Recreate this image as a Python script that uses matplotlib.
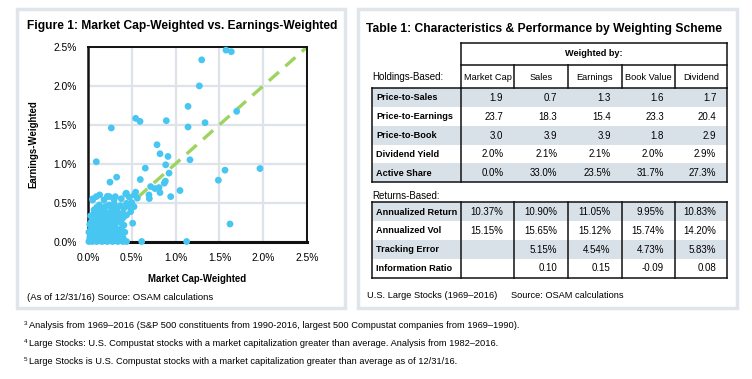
import matplotlib
matplotlib.use("Agg")
import matplotlib.pyplot as plt
from matplotlib.patches import Rectangle
from matplotlib.lines import Line2D
from matplotlib.ticker import FuncFormatter

W, H = 752, 379
NARROW = ['Liberation Sans Narrow', 'Liberation Sans', 'DejaVu Sans']
SANS = ['Liberation Sans', 'DejaVu Sans']

# ---------------- scatter data (weights in %) ----------------
mcap_w = [1.575, 1.636, 1.298, 1.271, 1.142, 1.697, 0.544, 0.594, 0.894, 0.266, 1.142, 1.336,
          0.788, 0.822, 0.913, 0.887, 1.164, 0.095, 0.654, 0.925, 1.564, 1.963, 0.327, 0.251,
          0.597, 0.883, 0.871, 1.488, 0.765, 0.811, 0.822, 1.050, 0.544, 0.438, 0.133, 0.243,
          0.312, 0.529, 0.944, 0.700, 0.053, 0.053, 1.621, 0.613, 1.126, 0.510,
          0.01, 0.03, 0.05, 0.08, 0.10, 0.13, 0.16, 0.19, 0.22, 0.25, 0.28, 0.31, 0.34, 0.37, 0.40, 0.44,
          0.02, 0.05, 0.07, 0.10, 0.12, 0.15, 0.18, 0.21, 0.24, 0.27, 0.30, 0.33, 0.36, 0.40,
          0.01, 0.03, 0.05, 0.06, 0.08, 0.10, 0.12, 0.13, 0.15, 0.17, 0.19, 0.20, 0.22, 0.24, 0.26,
          0.28, 0.30, 0.32, 0.35, 0.38, 0.42,
          0.02, 0.04, 0.07, 0.09, 0.11, 0.13, 0.15, 0.17, 0.19, 0.21, 0.23, 0.25, 0.27, 0.29, 0.31,
          0.33, 0.36, 0.39, 0.41,
          0.03, 0.07, 0.10, 0.12, 0.145, 0.16, 0.18, 0.20, 0.22, 0.24, 0.26, 0.28, 0.30, 0.32, 0.34,
          0.37, 0.40, 0.44, 0.487,
          0.068, 0.10, 0.13, 0.16, 0.20, 0.24, 0.27, 0.30, 0.335, 0.37, 0.41, 0.44, 0.47, 0.525, 0.50,
          0.095, 0.183, 0.297, 0.22, 0.38, 0.43, 0.47, 0.563, 0.696, 0.715, 0.41, 0.259]
earn_w = [2.46, 2.44, 2.335, 2.00, 1.737, 1.673, 1.583, 1.544, 1.553, 1.459, 1.472, 1.527,
          1.244, 1.128, 1.093, 0.986, 1.050, 1.025, 0.943, 0.879, 0.917, 0.938, 0.827, 0.763,
          0.797, 0.776, 0.750, 0.788, 0.680, 0.693, 0.629, 0.655, 0.634, 0.621, 0.599, 0.577,
          0.577, 0.599, 0.577, 0.552, 0.548, 0.535, 0.225, 0.0, 0.0, 0.235,
          0.0, 0.01, 0.0, 0.02, 0.0, 0.01, 0.0, 0.02, 0.0, 0.01, 0.0, 0.02, 0.0, 0.01, 0.0, 0.0,
          0.05, 0.07, 0.04, 0.08, 0.05, 0.09, 0.06, 0.08, 0.05, 0.07, 0.04, 0.06, 0.09, 0.05,
          0.12, 0.15, 0.11, 0.18, 0.13, 0.16, 0.20, 0.12, 0.15, 0.19, 0.13, 0.17, 0.11, 0.19, 0.14,
          0.18, 0.12, 0.16, 0.13, 0.17, 0.12,
          0.22, 0.26, 0.23, 0.28, 0.24, 0.27, 0.22, 0.29, 0.25, 0.22, 0.28, 0.24, 0.30, 0.26, 0.22,
          0.28, 0.25, 0.29, 0.21,
          0.33, 0.36, 0.32, 0.38, 0.32, 0.35, 0.39, 0.33, 0.37, 0.31, 0.30, 0.36, 0.39, 0.33, 0.37,
          0.32, 0.36, 0.34, 0.384,
          0.406, 0.44, 0.47, 0.42, 0.45, 0.47, 0.42, 0.48, 0.428, 0.46, 0.43, 0.49, 0.45, 0.448, 0.50,
          0.577, 0.535, 0.535, 0.58, 0.55, 0.612, 0.57, 0.557, 0.599, 0.706, 0.32, 0.30]
axis_ticks = [0.0, 0.5, 1.0, 1.5, 2.0, 2.5]

# ---------------- table data ----------------
col_headers = ["Market Cap", "Sales", "Earnings", "Book Value", "Dividend"]
hold_labels = ["Price-to-Sales", "Price-to-Earnings", "Price-to-Book", "Dividend Yield", "Active Share"]
hold_values = [
    ["1.9", "0.7", "1.3", "1.6", "1.7"],
    ["23.7", "18.3", "15.4", "23.3", "20.4"],
    ["3.0", "3.9", "3.9", "1.8", "2.9"],
    ["2.0%", "2.1%", "2.1%", "2.0%", "2.9%"],
    ["0.0%", "33.0%", "23.5%", "31.7%", "27.3%"],
]
ret_labels = ["Annualized Return", "Annualized Vol", "Tracking Error", "Information Ratio"]
ret_values = [
    ["10.37%", "10.90%", "11.05%", "9.95%", "10.83%"],
    ["15.15%", "15.65%", "15.12%", "15.74%", "14.20%"],
    ["", "5.15%", "4.54%", "4.73%", "5.83%"],
    ["", "0.10", "0.15", "-0.09", "0.08"],
]
footnotes = [
    ("3", "Analysis from 1969\u20132016 (S&P 500 constituents from 1990-2016, largest 500 Compustat companies from 1969\u20131990)."),
    ("4", "Large Stocks: U.S. Compustat stocks with a market capitalization greater than average. Analysis from 1982\u20132016."),
    ("5", "Large Stocks is U.S. Compustat stocks with a market capitalization greater than average as of 12/31/16."),
]

fig = plt.figure(figsize=(W / 100, H / 100), dpi=100)
fig.patch.set_facecolor('white')

def fx(x):
    return x / W

def fy(y):
    return 1 - y / H

def ftext(x, y, s, **kw):
    fig.text(fx(x), fy(y), s, **kw)

def hline(x0, x1, y, **kw):
    fig.add_artist(Line2D([fx(x0), fx(x1)], [fy(y), fy(y)], **kw))

def vline(x, y0, y1, **kw):
    fig.add_artist(Line2D([fx(x), fx(x)], [fy(y0), fy(y1)], **kw))

def frect(x0, y0, x1, y1, **kw):
    fig.add_artist(Rectangle((fx(x0), fy(y1)), fx(x1) - fx(x0), fy(y0) - fy(y1), **kw))

FRAME = '#DFE5EB'
SHADE = '#D9E1E8'

# panel frames
frect(17, 9, 345, 308, facecolor='none', edgecolor=FRAME, lw=2.5)
frect(358, 9, 737, 308, facecolor='none', edgecolor=FRAME, lw=2.5)

# ---------------- left panel: scatter ----------------
ftext(27, 26, "Figure 1: Market Cap-Weighted vs. Earnings-Weighted", family=SANS,
      fontweight='bold', fontsize=8.65, va='center', ha='left')

ax = fig.add_axes([fx(88), fy(241.5), fx(307) - fx(88), fy(47) - fy(241.5)])
ax.set_xlim(0, 2.5)
ax.set_ylim(0, 2.5)
ax.set_xticks(axis_ticks)
ax.set_yticks(axis_ticks)
pct = FuncFormatter(lambda v, p: f"{v:.1f}%")
ax.xaxis.set_major_formatter(pct)
ax.yaxis.set_major_formatter(pct)
ax.grid(True, color='#DCE3EA', lw=1.6)
ax.set_axisbelow(True)
ax.tick_params(length=0, pad=8, labelsize=7.4)
for lab in ax.get_xticklabels() + ax.get_yticklabels():
    lab.set_family(NARROW)
for sp in ax.spines.values():
    sp.set_color('#111111')
    sp.set_linewidth(1.4)
ax.spines['bottom'].set_linewidth(2.2)
ax.spines['left'].set_linewidth(1.8)

ax.plot([0, 2.5], [0, 2.5], color='#9ED35F', lw=2.4, dashes=(4, 2.6), zorder=2)
ax.scatter(mcap_w, earn_w, s=24, color='#47C6F2', edgecolors='none', zorder=3, clip_on=False)

ax.set_xlabel("Market Cap-Weighted", family=NARROW, fontweight='bold', fontsize=6.9, labelpad=8)
ax.set_ylabel("Earnings-Weighted", family=NARROW, fontweight='bold', fontsize=6.9, labelpad=11)

ftext(27, 297, "(As of 12/31/16) Source: OSAM calculations", family=NARROW, fontsize=6.8, va='center')

# ---------------- right panel: table ----------------
ftext(366, 29, "Table 1: Characteristics & Performance by Weighting Scheme", family=SANS,
      fontweight='bold', fontsize=8.7, va='center', ha='left')

col_x = [461, 514.3, 568.3, 621.7, 675, 727.3]
left_x = 371.7
TL = dict(color='#111111', lw=1.1)
TS = 7.0   # values
HS = 6.7   # column headers
LS = 6.6   # bold row labels

# header box
hline(col_x[0], col_x[-1], 42.7, **TL)
hline(col_x[0], col_x[-1], 65, **TL)
vline(col_x[0], 42.7, 88.3, **TL)
vline(col_x[-1], 42.7, 88.3, **TL)
for cx in col_x[1:-1]:
    vline(cx, 65, 88.3, **TL)
ftext((col_x[0] + col_x[-1]) / 2, 54, "Weighted by:", family=NARROW, fontweight='bold',
      fontsize=LS, ha='center', va='center')
for i, h in enumerate(col_headers):
    ftext((col_x[i] + col_x[i + 1]) / 2, 77.3, h, family=NARROW, fontsize=HS,
          ha='center', va='center')
ftext(372, 77.3, "Holdings-Based:", family=NARROW, fontsize=TS, ha='left', va='center')

def draw_block(top, rows, labels, values, shaded, inner_lines):
    rh = 18.8
    bottom = top + rh * rows
    for r in range(rows):
        y0 = top + r * rh
        if r in shaded:
            frect(left_x, y0, col_x[-1], y0 + rh, facecolor=SHADE, edgecolor='none', zorder=0)
        yc = y0 + rh / 2 + 0.3
        ftext(376, yc, labels[r], family=NARROW, fontweight='bold', fontsize=LS,
              ha='left', va='center')
        for c, v in enumerate(values[r]):
            if v:
                ftext(col_x[c + 1] - 11, yc, v, family=NARROW, fontsize=TS, ha='right', va='center')
    hline(left_x, col_x[-1], top, **TL)
    hline(left_x, col_x[-1], bottom, **TL)
    vline(left_x, top, bottom, **TL)
    vline(col_x[-1], top, bottom, **TL)
    vline(col_x[0], top, bottom, **TL)
    if inner_lines:
        for cx in col_x[1:-1]:
            vline(cx, top, bottom, **TL)

draw_block(88.3, 5, hold_labels, hold_values, shaded=[0, 2, 4], inner_lines=False)
ftext(372, 196, "Returns-Based:", family=NARROW, fontsize=TS, ha='left', va='center')
draw_block(202.3, 4, ret_labels, ret_values, shaded=[0, 2], inner_lines=True)

ftext(367, 295, "U.S. Large Stocks (1969\u20132016)", family=NARROW, fontsize=6.7, va='center')
ftext(511, 295, "Source: OSAM calculations", family=NARROW, fontsize=6.7, va='center')

# ---------------- footnotes ----------------
for i, (num, txt) in enumerate(footnotes):
    y = 326 + 18 * i
    ftext(24, y - 2.5, num, family=NARROW, fontsize=4.5, va='center')
    ftext(29, y, txt, family=NARROW, fontsize=6.7, va='center')

fig.savefig("out.png", dpi=100, facecolor='white')
